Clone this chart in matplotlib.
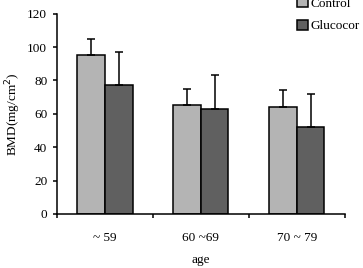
import matplotlib
matplotlib.use("Agg")
import matplotlib.pyplot as plt
import numpy as np

plt.rcParams['font.family'] = ['Liberation Serif', 'DejaVu Serif']

# данные
groups = ['~ 59', '60 ~69', '70 ~ 79']
control = [95, 65, 64]
control_err = [10, 10, 10]
gluco = [77, 63, 52]
gluco_err = [20, 20, 20]
labels = ['Control', 'Glucocor']

fs = 9.5

fig = plt.figure(figsize=(3.63, 2.68), dpi=100)
ax = fig.add_axes([0.157, 0.2015, 0.793, 0.7475])

x = np.arange(len(groups))
w = 0.287
b1 = ax.bar(x - w / 2, control, w, color='#b4b4b4', edgecolor='black', linewidth=1.1,
            label=labels[0])
b2 = ax.bar(x + w / 2, gluco, w, color='#606060', edgecolor='black', linewidth=1.1,
            label=labels[1])
ax.errorbar(x - w / 2, control, yerr=[np.zeros(3), control_err], fmt='none',
            ecolor='black', elinewidth=1.1, capsize=3, capthick=1.1)
ax.errorbar(x + w / 2, gluco, yerr=[np.zeros(3), gluco_err], fmt='none',
            ecolor='black', elinewidth=1.1, capsize=3, capthick=1.1)

ax.set_xlim(-0.5, len(groups) - 0.5)
ax.set_ylim(0, 120)
ax.set_yticks(range(0, 121, 20))
ax.set_xticks(np.arange(-0.5, len(groups), 1.0))
ax.set_xticklabels([])
ax.set_xticks(x, minor=True)
ax.set_xticklabels(groups, minor=True)
ax.tick_params(axis='x', which='minor', length=0, pad=13, labelsize=fs)
ax.tick_params(axis='x', which='major', length=3, width=1.1)
ax.tick_params(axis='y', length=3, width=1.1, labelsize=fs, pad=4)

for s in ['top', 'right']:
    ax.spines[s].set_visible(False)
for s in ['left', 'bottom']:
    ax.spines[s].set_linewidth(1.1)

ax.set_ylabel('BMD(mg/cm$^2$)', fontsize=fs, labelpad=3)
ax.set_xlabel('age', fontsize=fs, labelpad=7.5)

fig.legend(handles=[b1, b2], loc='upper left', bbox_to_anchor=(0.804, 1.03),
           frameon=False, fontsize=fs, handlelength=0.8, handleheight=0.8,
           handletextpad=0.25, labelspacing=0.75, borderaxespad=0)

fig.savefig('out.png', dpi=100)
